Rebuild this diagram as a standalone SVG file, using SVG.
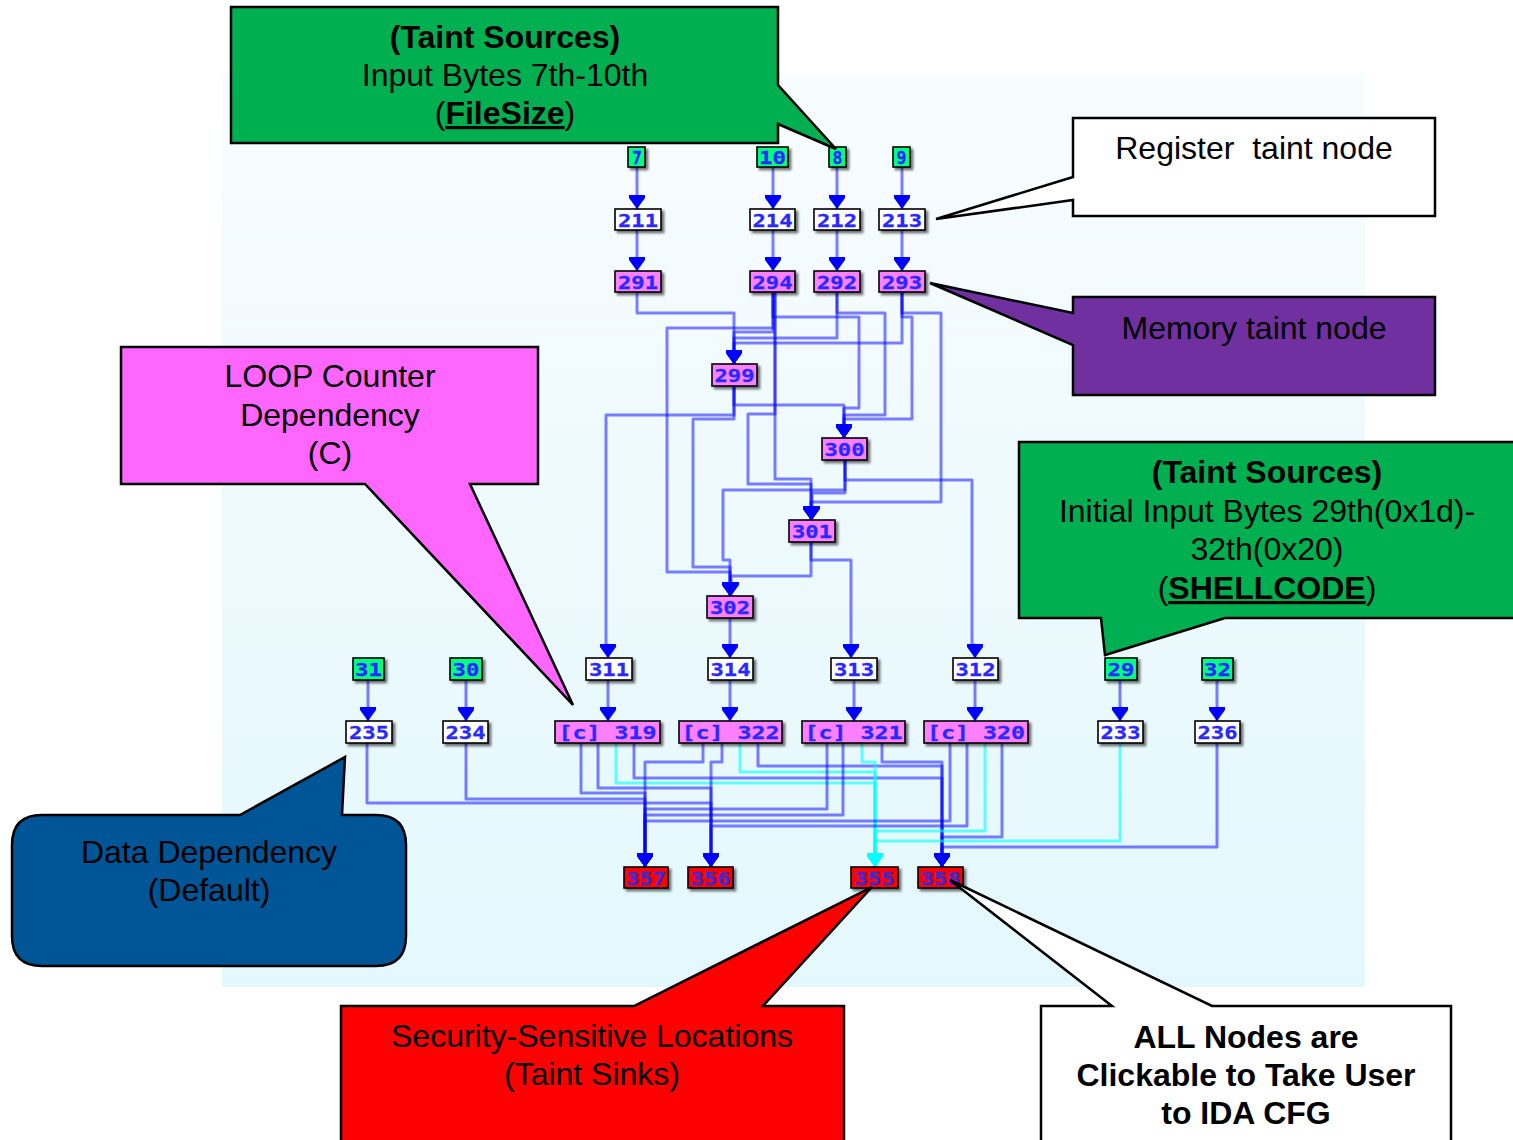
<svg xmlns="http://www.w3.org/2000/svg" width="1513" height="1140" viewBox="0 0 1513 1140">
<defs>
<linearGradient id="bg" x1="0" y1="0" x2="0" y2="1">
<stop offset="0" stop-color="#f8fcff"/>
<stop offset="1" stop-color="#e3f8fd"/>
</linearGradient>
<filter id="sh" x="-20%" y="-30%" width="150%" height="180%">
<feDropShadow dx="2.5" dy="2.5" stdDeviation="1.2" flood-color="#000" flood-opacity="0.55"/>
</filter>
<marker id="ab" markerUnits="userSpaceOnUse" markerWidth="20" markerHeight="18" refX="9" refY="15" orient="0" overflow="visible">
<path d="M1,1 H17 V4 L9,15 L1,4 Z" fill="#0000ff"/>
</marker>
<marker id="ac" markerUnits="userSpaceOnUse" markerWidth="20" markerHeight="18" refX="9" refY="15" orient="0" overflow="visible">
<path d="M1,1 H17 V4 L9,15 L1,4 Z" fill="#00ffff"/>
</marker>
</defs>
<style>
.e{fill:none;stroke:#0000ff;stroke-opacity:0.5;stroke-width:3;stroke-linejoin:round;marker-end:url(#ab)}
.c{fill:none;stroke:#00ffff;stroke-opacity:0.6;stroke-width:3;stroke-linejoin:round;marker-end:url(#ac)}
.node rect{stroke:#000;stroke-width:1.6;filter:url(#sh)}
.src rect{fill:#00ff80}
.reg rect{fill:#ffffff}
.mem rect{fill:#ff80ff}
.sink rect{fill:#ff0000}
.node text{font-family:"DejaVu Sans Mono","Liberation Mono",monospace;font-weight:bold;font-size:18px;fill:#2828ff;text-anchor:middle;stroke:#2828ff;stroke-width:0.3}
.sink text{fill:#3a2ad0;stroke:#3a2ad0}
.co{stroke:#000;stroke-width:2.5;stroke-linejoin:miter}
.t{font-family:"Liberation Sans",Arial,sans-serif;font-size:32px;fill:#000;text-anchor:middle}
.b{font-weight:bold}
</style>
<rect x="222" y="74" width="1143" height="913" fill="url(#bg)"/>

<g id="connectors">
<path class="e" d="M637,167 V209"/>
<path class="e" d="M773,167 V209"/>
<path class="e" d="M837,167 V209"/>
<path class="e" d="M902,167 V209"/>
<path class="e" d="M637,230 V271"/>
<path class="e" d="M773,230 V271"/>
<path class="e" d="M837,230 V271"/>
<path class="e" d="M902,230 V271"/>
<path class="e" d="M637,292 V313 H734 V364"/>
<path class="e" d="M773,292 V332 H734 V364"/>
<path class="e" d="M837,292 V338 H734 V364"/>
<path class="e" d="M902,292 V343 H734 V364"/>
<path class="e" d="M773,292 V317 H859 V408 H844 V438"/>
<path class="e" d="M837,292 V313 H885 V415 H844 V438"/>
<path class="e" d="M902,292 V317 H912 V419 H844 V438"/>
<path class="e" d="M734,386 V405 H844 V438"/>
<path class="e" d="M775,292 V479 H811 V520"/>
<path class="e" d="M775,292 V414 H748 V484 H811 V520"/>
<path class="e" d="M773,292 V328 H667 V572 H730 V596"/>
<path class="e" d="M902,292 V313 H941 V502 H811 V520"/>
<path class="e" d="M734,386 V415 H606 V645 H608 V658"/>
<path class="e" d="M734,386 V419 H693 V567 H730 V596"/>
<path class="e" d="M845,460 V490 H723 V560 H730 V596"/>
<path class="e" d="M845,460 V480 H972 V645 H975 V658"/>
<path class="e" d="M845,460 V493 H812 V520"/>
<path class="e" d="M811,542 V560 H851 V658"/>
<path class="e" d="M811,542 V576 H731 V596"/>
<path class="e" d="M730,618 V658"/>
<path class="e" d="M608,680 V721"/>
<path class="e" d="M730,680 V721"/>
<path class="e" d="M854,680 V721"/>
<path class="e" d="M975,680 V721"/>
<path class="e" d="M368,680 V721"/>
<path class="e" d="M466,680 V721"/>
<path class="e" d="M1120,680 V721"/>
<path class="e" d="M1217,680 V721"/>
<path class="e" d="M367,743 V803 H711 V867"/>
<path class="e" d="M466,743 V799 H645 V867"/>
<path class="e" d="M581,743 V793 H645 V867"/>
<path class="e" d="M598,743 V788 H711 V867"/>
<path class="c" d="M616,743 V783 H875 V867"/>
<path class="e" d="M634,743 V778 H942 V867"/>
<path class="e" d="M703,743 V762 H645 V867"/>
<path class="e" d="M722,743 V762 H711 V867"/>
<path class="c" d="M740,743 V772 H875 V867"/>
<path class="e" d="M758,743 V766 H942 V867"/>
<path class="e" d="M827,743 V809 H645 V867"/>
<path class="e" d="M843,743 V815 H645 V867"/>
<path class="c" d="M862,743 V762 H875 V867"/>
<path class="e" d="M882,743 V762 H942 V867"/>
<path class="e" d="M950,743 V821 H645 V867"/>
<path class="e" d="M967,743 V826 H711 V867"/>
<path class="c" d="M985,743 V831 H875 V867"/>
<path class="e" d="M1002,743 V837 H942 V867"/>
<path class="c" d="M1120,743 V841 H875 V867"/>
<path class="e" d="M1217,743 V847 H942 V867"/>
</g>

<g id="n7" class="node src"><rect x="628" y="147" width="17" height="20"/><text x="637" y="164" textLength="10" lengthAdjust="spacingAndGlyphs">7</text></g>
<g id="n10" class="node src"><rect x="757" y="147" width="31" height="20"/><text x="772.5" y="164" textLength="27" lengthAdjust="spacingAndGlyphs">10</text></g>
<g id="n8" class="node src"><rect x="829" y="147" width="17" height="20"/><text x="837.5" y="164" textLength="10" lengthAdjust="spacingAndGlyphs">8</text></g>
<g id="n9" class="node src"><rect x="893" y="147" width="17" height="20"/><text x="901.5" y="164" textLength="10" lengthAdjust="spacingAndGlyphs">9</text></g>

<g id="n211" class="node reg"><rect x="615" y="209" width="46" height="21"/><text x="638" y="226.5" textLength="40" lengthAdjust="spacingAndGlyphs">211</text></g>
<g id="n214" class="node reg"><rect x="750" y="209" width="45" height="21"/><text x="772.5" y="226.5" textLength="40" lengthAdjust="spacingAndGlyphs">214</text></g>
<g id="n212" class="node reg"><rect x="814" y="209" width="46" height="21"/><text x="837" y="226.5" textLength="40" lengthAdjust="spacingAndGlyphs">212</text></g>
<g id="n213" class="node reg"><rect x="879" y="209" width="46" height="21"/><text x="902" y="226.5" textLength="40" lengthAdjust="spacingAndGlyphs">213</text></g>

<g id="n291" class="node mem"><rect x="615" y="271" width="46" height="21"/><text x="638" y="288.5" textLength="40" lengthAdjust="spacingAndGlyphs">291</text></g>
<g id="n294" class="node mem"><rect x="750" y="271" width="45" height="21"/><text x="772.5" y="288.5" textLength="40" lengthAdjust="spacingAndGlyphs">294</text></g>
<g id="n292" class="node mem"><rect x="814" y="271" width="46" height="21"/><text x="837" y="288.5" textLength="40" lengthAdjust="spacingAndGlyphs">292</text></g>
<g id="n293" class="node mem"><rect x="879" y="271" width="46" height="21"/><text x="902" y="288.5" textLength="40" lengthAdjust="spacingAndGlyphs">293</text></g>

<g id="n299" class="node mem"><rect x="712" y="364" width="45" height="22"/><text x="734.5" y="382" textLength="40" lengthAdjust="spacingAndGlyphs">299</text></g>
<g id="n300" class="node mem"><rect x="822" y="438" width="45" height="22"/><text x="844.5" y="456" textLength="40" lengthAdjust="spacingAndGlyphs">300</text></g>
<g id="n301" class="node mem"><rect x="789" y="520" width="46" height="22"/><text x="812" y="538" textLength="40" lengthAdjust="spacingAndGlyphs">301</text></g>
<g id="n302" class="node mem"><rect x="707" y="596" width="46" height="22"/><text x="730" y="614" textLength="40" lengthAdjust="spacingAndGlyphs">302</text></g>

<g id="n31" class="node src"><rect x="353" y="658" width="31" height="22"/><text x="368.5" y="676" textLength="27" lengthAdjust="spacingAndGlyphs">31</text></g>
<g id="n30" class="node src"><rect x="450" y="658" width="32" height="22"/><text x="466" y="676" textLength="27" lengthAdjust="spacingAndGlyphs">30</text></g>
<g id="n311" class="node reg"><rect x="586" y="658" width="46" height="22"/><text x="609" y="676" textLength="40" lengthAdjust="spacingAndGlyphs">311</text></g>
<g id="n314" class="node reg"><rect x="708" y="658" width="45" height="22"/><text x="730.5" y="676" textLength="40" lengthAdjust="spacingAndGlyphs">314</text></g>
<g id="n313" class="node reg"><rect x="831" y="658" width="46" height="22"/><text x="854" y="676" textLength="40" lengthAdjust="spacingAndGlyphs">313</text></g>
<g id="n312" class="node reg"><rect x="953" y="658" width="45" height="22"/><text x="975.5" y="676" textLength="40" lengthAdjust="spacingAndGlyphs">312</text></g>
<g id="n29" class="node src"><rect x="1105" y="658" width="32" height="22"/><text x="1121" y="676" textLength="27" lengthAdjust="spacingAndGlyphs">29</text></g>
<g id="n32" class="node src"><rect x="1202" y="658" width="31" height="22"/><text x="1217.5" y="676" textLength="27" lengthAdjust="spacingAndGlyphs">32</text></g>

<g id="n235" class="node reg"><rect x="346" y="721" width="46" height="22"/><text x="369" y="739" textLength="40" lengthAdjust="spacingAndGlyphs">235</text></g>
<g id="n234" class="node reg"><rect x="443" y="721" width="45" height="22"/><text x="465.5" y="739" textLength="40" lengthAdjust="spacingAndGlyphs">234</text></g>
<g id="n319" class="node mem"><rect x="555" y="721" width="105" height="22"/><text x="607.5" y="739" textLength="98" lengthAdjust="spacingAndGlyphs">[c] 319</text></g>
<g id="n322" class="node mem"><rect x="679" y="721" width="103" height="22"/><text x="730.5" y="739" textLength="98" lengthAdjust="spacingAndGlyphs">[c] 322</text></g>
<g id="n321" class="node mem"><rect x="802" y="721" width="103" height="22"/><text x="853.5" y="739" textLength="98" lengthAdjust="spacingAndGlyphs">[c] 321</text></g>
<g id="n320" class="node mem"><rect x="924" y="721" width="104" height="22"/><text x="976" y="739" textLength="98" lengthAdjust="spacingAndGlyphs">[c] 320</text></g>
<g id="n233" class="node reg"><rect x="1098" y="721" width="45" height="22"/><text x="1120.5" y="739" textLength="40" lengthAdjust="spacingAndGlyphs">233</text></g>
<g id="n236" class="node reg"><rect x="1195" y="721" width="45" height="22"/><text x="1217.5" y="739" textLength="40" lengthAdjust="spacingAndGlyphs">236</text></g>

<g id="n357" class="node sink"><rect x="624" y="867" width="44" height="21"/><text x="646" y="884.5" textLength="40" lengthAdjust="spacingAndGlyphs">357</text></g>
<g id="n356" class="node sink"><rect x="688" y="867" width="45" height="21"/><text x="710.5" y="884.5" textLength="40" lengthAdjust="spacingAndGlyphs">356</text></g>
<g id="n355" class="node sink"><rect x="851" y="867" width="47" height="21"/><text x="874.5" y="884.5" textLength="40" lengthAdjust="spacingAndGlyphs">355</text></g>
<g id="n358" class="node sink"><rect x="918" y="867" width="45" height="21"/><text x="940.5" y="884.5" textLength="40" lengthAdjust="spacingAndGlyphs">358</text></g>

<g id="callout-filesize">
<path class="co" fill="#00b050" d="M231,7 H778 V85 L836,149 L778,124 V143 H231 Z"/>
<text class="t b" x="505" y="48">(Taint Sources)</text>
<text class="t" x="505" y="86">Input Bytes 7th-10th</text>
<text class="t" x="505" y="124">(<tspan class="b" text-decoration="underline">FileSize</tspan>)</text>
</g>
<g id="callout-register">
<path class="co" fill="#ffffff" d="M1073,118 H1435 V216 H1073 V200 L936,219 L1073,177 Z"/>
<text class="t" x="1254" y="159" xml:space="preserve">Register  taint node</text>
</g>
<g id="callout-memory">
<path class="co" fill="#7030a0" d="M1073,297 H1435 V395 H1073 V345 L930,283 L1073,313 Z"/>
<text class="t" x="1254" y="339">Memory taint node</text>
</g>
<g id="callout-loop">
<path class="co" fill="#ff66ff" d="M121,347 H538 V484 H470 L573,705 L365,484 H121 Z"/>
<text class="t" x="330" y="387">LOOP Counter</text>
<text class="t" x="330" y="426">Dependency</text>
<text class="t" x="330" y="464">(C)</text>
</g>
<g id="callout-shellcode">
<path class="co" fill="#00b050" d="M1019,442 H1520 V618 H1225 L1105,655 L1101,618 H1019 Z"/>
<text class="t b" x="1267" y="483">(Taint Sources)</text>
<text class="t" x="1267" y="522">Initial Input Bytes 29th(0x1d)-</text>
<text class="t" x="1267" y="560">32th(0x20)</text>
<text class="t" x="1267" y="599">(<tspan class="b" text-decoration="underline">SHELLCODE</tspan>)</text>
</g>
<g id="callout-data">
<path class="co" fill="#005597" d="M42,815 H240 L345,757 L342,815 H376 Q406,815 406,845 V936 Q406,966 376,966 H42 Q12,966 12,936 V845 Q12,815 42,815 Z"/>
<text class="t" x="209" y="863">Data Dependency</text>
<text class="t" x="209" y="901">(Default)</text>
</g>
<g id="callout-sinks">
<path class="co" fill="#ff0000" d="M341,1006 H634 L872,887 L763,1006 H844 V1145 H341 Z"/>
<text class="t" x="592" y="1047" fill="#1a1a1a">Security-Sensitive Locations</text>
<text class="t" x="592" y="1085" fill="#1a1a1a">(Taint Sinks)</text>
</g>
<g id="callout-clickable">
<path class="co" fill="#ffffff" d="M1041,1006 H1112 L950,880 L1212,1006 H1451 V1145 H1041 Z"/>
<text class="t b" x="1246" y="1048">ALL Nodes are</text>
<text class="t b" x="1246" y="1086">Clickable to Take User</text>
<text class="t b" x="1246" y="1124">to IDA CFG</text>
</g>
</svg>
